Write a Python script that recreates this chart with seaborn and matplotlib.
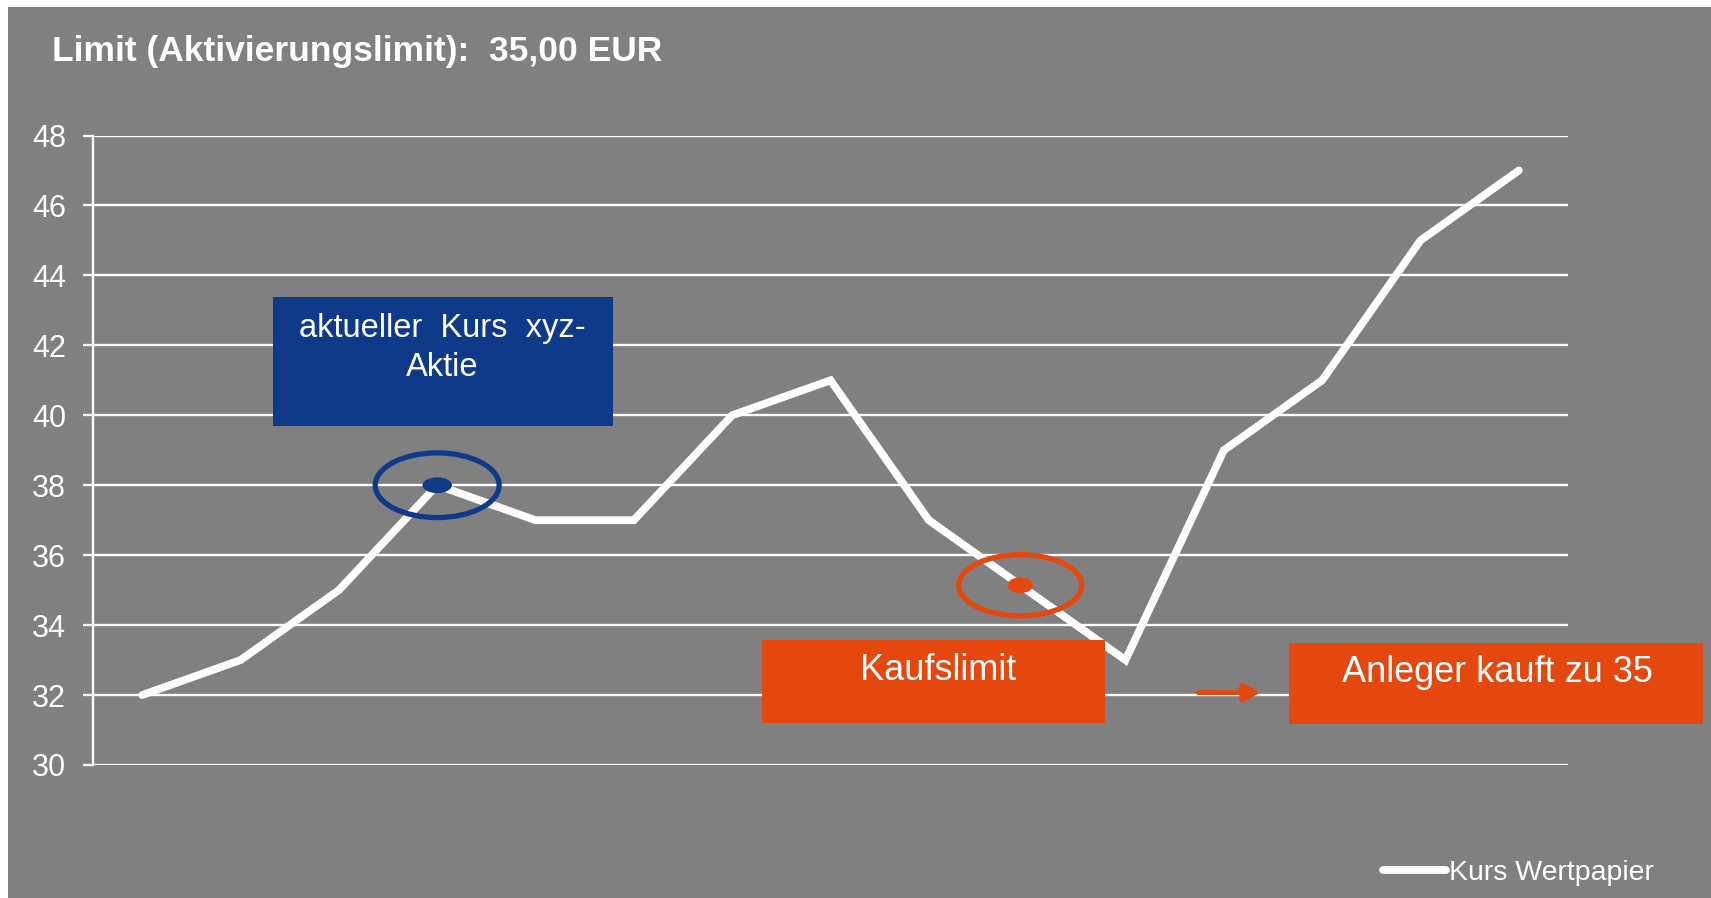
import matplotlib
matplotlib.use('Agg')
import matplotlib.pyplot as plt
import numpy as np
import pandas as pd
import seaborn as sns
from matplotlib.patches import Ellipse, Rectangle

# data
tage = list(range(15))
kurs = [32, 33, 35, 38, 37, 37, 40, 41, 37, 35, 33, 39, 41, 45, 47]
y_ticks = [30, 32, 34, 36, 38, 40, 42, 44, 46, 48]
aktuell_pos = 3
limit_pos = 8.93
limit = 35.0
serie_name = 'Kurs Wertpapier'
titel = 'Limit (Aktivierungslimit):  35,00 EUR'

GRAU = '#808080'
BLAU = '#0f3a8a'
ORANGE = '#e5480f'

sns.set_theme(style='white')
plt.rcParams['font.family'] = ['Liberation Sans', 'DejaVu Sans']

df = pd.DataFrame({'Tag': tage, serie_name: kurs})

fig = plt.figure(figsize=(17.11, 8.98), dpi=100, facecolor='white')
# grey panel with thin white margin on top/left
fig.patches.append(Rectangle((8 / 1711, 0), 1, 1 - 7 / 898, transform=fig.transFigure,
                             facecolor=GRAU, edgecolor='none', zorder=-5))

ax = fig.add_axes([93 / 1711, 133 / 898, 1475 / 1711, 629.5 / 898])
ax.set_facecolor('none')

sns.lineplot(data=df, x='Tag', y=serie_name, ax=ax, color='white', linewidth=5.6,
             solid_capstyle='round', solid_joinstyle='miter', label=serie_name, zorder=3)

ax.set_xlim(-0.5, 14.5)
ax.set_ylim(30, 48)
ax.set_yticks(y_ticks)
ax.set_xticks([])
ax.set_xlabel('')
ax.set_ylabel('')
ax.grid(axis='y', color='white', linewidth=1.7)
ax.set_axisbelow(True)
for s in ['top', 'right', 'bottom']:
    ax.spines[s].set_visible(False)
ax.spines['left'].set_color('white')
ax.spines['left'].set_linewidth(1.7)
ax.tick_params(axis='y', colors='white', labelsize=22, length=7.5, width=1.7,
               direction='out', pad=12, left=True)

# current price marker (blue)
ax.add_patch(Ellipse((aktuell_pos, kurs[aktuell_pos]), 1.26, 1.85, fill=False,
                     edgecolor=BLAU, linewidth=3.8, zorder=4))
ax.add_patch(Ellipse((aktuell_pos, kurs[aktuell_pos]), 0.3, 0.45, facecolor=BLAU,
                     edgecolor='none', zorder=5))

# buy limit marker (orange)
limit_y = np.interp(limit_pos, tage, kurs)
ax.add_patch(Ellipse((limit_pos, limit_y), 1.25, 1.75, fill=False,
                     edgecolor=ORANGE, linewidth=3.8, zorder=4))
ax.add_patch(Ellipse((limit_pos, limit_y), 0.26, 0.45, facecolor=ORANGE,
                     edgecolor='none', zorder=5))

# boxes (figure pixel coords)
def box(x0, y0, x1, y1, color):
    fig.patches.append(Rectangle((x0 / 1711, 1 - y1 / 898), (x1 - x0) / 1711, (y1 - y0) / 898,
                                 transform=fig.transFigure, facecolor=color,
                                 edgecolor='none', zorder=6))

box(273, 297, 613, 426, BLAU)
fig.text(442 / 1711, 1 - 328 / 898, 'aktueller  Kurs  xyz-', color='white', fontsize=23.5,
         ha='center', va='center', zorder=7)
fig.text(442 / 1711, 1 - 368 / 898, 'Aktie', color='white', fontsize=23.5,
         ha='center', va='center', zorder=7)

box(762, 640, 1105, 723, ORANGE)
fig.text(938 / 1711, 1 - 671 / 898, 'Kaufslimit', color='white', fontsize=26,
         ha='center', va='center', zorder=7)

box(1289, 643, 1703, 724, ORANGE)
fig.text(1497 / 1711, 1 - 673 / 898, 'Anleger kauft zu 35', color='white', fontsize=26,
         ha='center', va='center', zorder=7)

ax.annotate('', xy=(11.37, 32.07), xytext=(10.74, 32.07),
            arrowprops=dict(arrowstyle='-|>,head_length=0.8,head_width=0.45',
                            color=ORANGE, linewidth=3.5, shrinkA=0, shrinkB=0),
            zorder=6)

# title
fig.text(52 / 1711, 1 - 52 / 898, titel, color='white', fontsize=25.5, fontweight='bold',
         ha='left', va='center')

leg = ax.legend(loc='center left', bbox_to_anchor=(1372 / 1711, 1 - 873 / 898),
                bbox_transform=fig.transFigure, frameon=False, fontsize=20.5,
                handlelength=2.2, handletextpad=0.1, borderaxespad=0)
for t in leg.get_texts():
    t.set_color('white')
for l in leg.get_lines():
    l.set_linewidth(5.6)

fig.savefig('out.png', dpi=100, facecolor=fig.get_facecolor())
